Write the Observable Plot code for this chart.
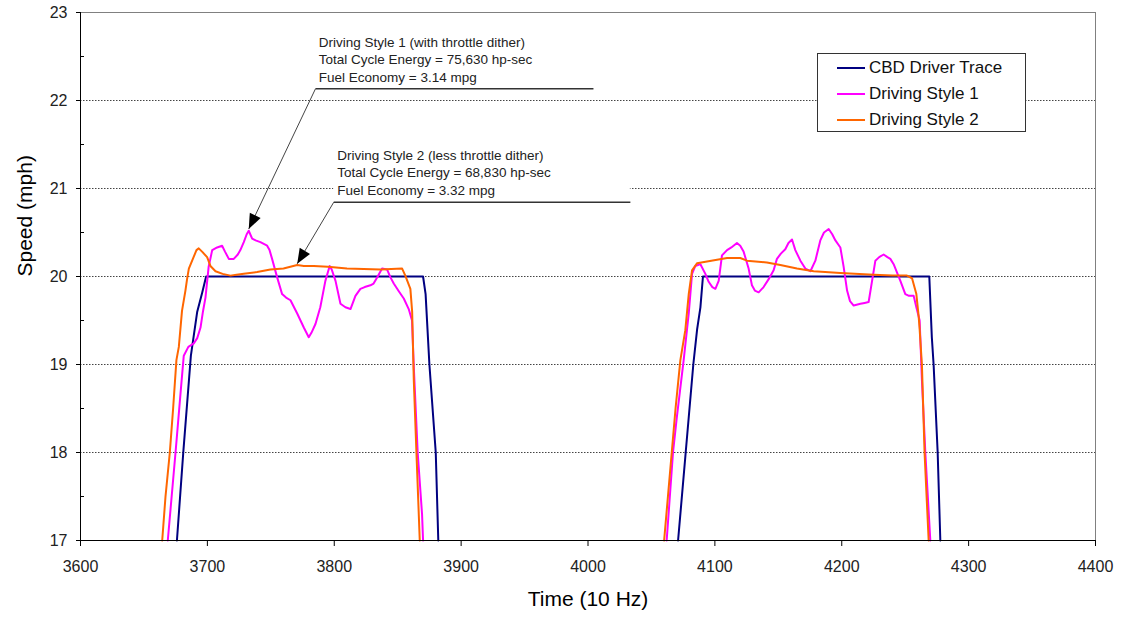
<!DOCTYPE html>
<html>
<head>
<meta charset="utf-8">
<script src="https://cdn.jsdelivr.net/npm/d3@7"></script>
<script src="https://cdn.jsdelivr.net/npm/@observablehq/plot@0.6"></script>
<style>
  body { margin: 0; background: #fff; font-family: "Liberation Sans", Arial, sans-serif; }
  #wrap { position: relative; width: 1123px; height: 624px; }
  #legend { position: absolute; left: 817px; top: 53px; width: 209px; height: 79px;
            border: 1px solid #333; box-sizing: border-box; background: #fff; }
  .row { position: absolute; left: 0; height: 20px; width: 100%; }
  .sw { position: absolute; left: 19px; top: 9px; width: 28px; height: 2px; }
  .lab { position: absolute; left: 51px; top: 0; font-size: 17px; line-height: 20px; color: #111; white-space: nowrap; }
</style>
</head>
<body>
<div id="wrap"></div>
<script>
// ---- data (time in 10 Hz samples, speed in mph) ----
const xTicks = [3600, 3700, 3800, 3900, 4000, 4100, 4200, 4300, 4400];
const yTicks = [17, 18, 19, 20, 21, 22, 23];
const yMinorTicks = [17.5, 18.5, 19.5, 20.5, 21.5, 22.5];
const gridValues = [18, 19, 20, 21, 22];

const seriesNames = ["CBD Driver Trace", "Driving Style 1", "Driving Style 2"];
const seriesColors = ["#000080", "#FF00FF", "#FF6600"];

const cbdHump1 = [[3676,17],[3681,18],[3687,19.1],[3692,19.6],[3696,19.82],[3699,20],[3870,20],[3872,19.8],[3875,19],[3880,18],[3882,17]];
const cbdHump2 = [[4071,17],[4077,18],[4083,19],[4086,19.4],[4088.6,19.65],[4090.6,20],[4269,20],[4271,19.31],[4272.4,19],[4275.6,18],[4277.7,17]];

const style1Hump1 = [[3668.8,17],[3674.9,18],[3679,18.7],[3681.4,19.1],[3685,19.2],[3689.3,19.24],[3692,19.3],[3694.6,19.42],[3696.5,19.6],[3698.5,19.76],[3701,20.11],[3703.8,20.3],[3707.7,20.33],[3711.6,20.35],[3714,20.28],[3716.9,20.2],[3720.8,20.2],[3724,20.25],[3726,20.3],[3728.7,20.39],[3731,20.48],[3732.6,20.52],[3735.3,20.43],[3738,20.41],[3741.8,20.39],[3747.1,20.35],[3749,20.3],[3751,20.2],[3755,19.99],[3758.9,19.8],[3762,19.76],[3765.5,19.73],[3770.8,19.58],[3776,19.42],[3779.9,19.31],[3782,19.36],[3785.2,19.46],[3789,19.65],[3793,19.95],[3796.4,20.12],[3798,20.08],[3801,19.95],[3804.9,19.69],[3808.8,19.65],[3812.8,19.63],[3816.7,19.78],[3820.6,19.86],[3824,19.88],[3828.5,19.9],[3831,19.92],[3833.8,19.99],[3837.7,20.09],[3841.6,20.08],[3844.3,19.99],[3846.9,19.92],[3851,19.83],[3854.8,19.75],[3858.7,19.63],[3861.3,19.5],[3862.7,18.97],[3865.8,17.99],[3869.2,17.3],[3870,17]];
const style1Hump2 = [[4062,17],[4064.5,17.5],[4067,18],[4070,18.4],[4072.5,18.7],[4075.4,19.05],[4079.4,19.58],[4082,20.03],[4084.6,20.12],[4088.6,20.14],[4092.5,20.03],[4095.1,19.94],[4098,19.88],[4100.4,19.86],[4103,19.95],[4105.6,20.24],[4109.6,20.3],[4113,20.33],[4117.4,20.38],[4120,20.35],[4122.7,20.28],[4126.6,20.09],[4129.2,19.9],[4131.5,19.84],[4134.5,19.82],[4138.4,19.88],[4142.4,19.97],[4146.3,20.07],[4148.9,20.2],[4152,20.26],[4155.5,20.31],[4158,20.38],[4160.8,20.42],[4163.4,20.3],[4167.4,20.18],[4171.3,20.09],[4175.3,20.06],[4179.2,20.18],[4183.1,20.41],[4186,20.5],[4189.7,20.54],[4192.5,20.48],[4195,20.41],[4198.9,20.33],[4201.5,20.11],[4204.2,19.84],[4206.5,19.72],[4209.4,19.67],[4214.7,19.69],[4218,19.7],[4221.2,19.71],[4223.9,19.95],[4226.5,20.18],[4229.5,20.22],[4233,20.25],[4236,20.22],[4238.3,20.2],[4240.9,20.14],[4246.2,19.95],[4250.1,19.8],[4253,19.78],[4256.7,19.78],[4258.8,19.65],[4261.4,19.5],[4263.2,18.82],[4265.9,17.99],[4269.8,17]];

const style2Hump1 = [[3664.4,17],[3667,17.5],[3670.4,18],[3673,18.5],[3675.6,19.05],[3677.5,19.2],[3680,19.61],[3682.7,19.84],[3684,19.97],[3685.4,20.09],[3688,20.18],[3691.4,20.3],[3693.2,20.32],[3696,20.28],[3699.8,20.22],[3702.4,20.12],[3706.4,20.06],[3712,20.03],[3718.2,20.01],[3723,20.02],[3728.7,20.03],[3739.2,20.05],[3749.7,20.08],[3760,20.09],[3770.8,20.13],[3776,20.12],[3783.9,20.12],[3795,20.11],[3810,20.09],[3836.4,20.08],[3853.5,20.09],[3856,20.01],[3860,19.86],[3861.4,19.6],[3862.7,18.82],[3864.8,17.99],[3867.4,17]];
const style2Hump2 = [[4060,17],[4063,17.5],[4066,18],[4069,18.5],[4072.8,19.05],[4076.7,19.39],[4079.4,19.8],[4082,20.07],[4085.9,20.15],[4093.8,20.17],[4101.7,20.19],[4109.6,20.21],[4120,20.21],[4125.3,20.18],[4141,20.16],[4151.6,20.13],[4164.7,20.09],[4177.9,20.06],[4198.9,20.04],[4225.2,20.02],[4240,20.01],[4251.4,20.01],[4255.4,19.98],[4258.8,19.8],[4260.6,19.55],[4261.4,19.4],[4263.2,18.99],[4265.3,17.99],[4268.5,17]];

const annotation1Lines = ["Driving Style 1 (with throttle dither)", "Total Cycle Energy = 75,630 hp-sec", "Fuel Economy = 3.14 mpg"];
const annotation2Lines = ["Driving Style 2 (less throttle dither)", "Total Cycle Energy = 68,830 hp-sec", "Fuel Economy = 3.32 mpg"];

// ---- build tables ----
function toRows(humps) {
  return humps.flatMap((h, i) => h.map(([t, v]) => ({t, v, hump: i})));
}
const cbdRows = toRows([cbdHump1, cbdHump2]);
const s1Rows = toRows([style1Hump1, style1Hump2]);
const s2Rows = toRows([style2Hump1, style2Hump2]);

// annotation anchors (data units); head = arrow tip
const ann = [
  {lines: annotation1Lines, tx: 3787.8, ty: [22.662, 22.46, 22.26], box: [22.8, 22.133], u: [3785.2, 4004.3, 22.133], head: [3732.6, 20.54], rot: 205.6},
  {lines: annotation2Lines, tx: 3802.3, ty: [21.375, 21.176, 20.977], box: [21.52, 20.844], u: [3799.6, 4033.4, 20.844], head: [3770.8, 20.144], rot: 210.7}
];
const annText = ann.flatMap(a => a.lines.map((s, i) => ({x: a.tx, y: a.ty[i], s})));
const annBox = ann.map(a => ({x1: a.u[0], x2: a.u[1], y1: a.box[0], y2: a.box[1]}));
const annUnder = ann.map(a => ({x1: a.u[0], x2: a.u[1], y: a.u[2]}));
const annLeader = ann.map(a => ({x1: a.u[0], y1: a.u[2], x2: a.head[0], y2: a.head[1]}));
const annHead = ann.map(a => ({x: a.head[0], y: a.head[1], r: a.rot}));

// arrowhead symbol: tip at origin, pointing up before rotation
const arrowHead = {
  draw(context) {
    context.moveTo(0, 0);
    context.lineTo(-6, 15);
    context.lineTo(6, 15);
    context.closePath();
  }
};

const font = "Liberation Sans, Arial, sans-serif";
const fmt = d => String(d);

const chart = Plot.plot({
  width: 1123, height: 624,
  marginLeft: 80, marginRight: 28, marginTop: 12, marginBottom: 84,
  style: {fontFamily: font, fontSize: "16px", color: "#222", background: "white"},
  x: {domain: [3600, 4400], label: null},
  y: {domain: [17, 23], label: null},
  marks: [
    Plot.gridY(gridValues, {stroke: "#444", strokeOpacity: 1, strokeDasharray: "1.5,1.5"}),
    Plot.frame({stroke: "#808080"}),
    Plot.rect(annBox, {x1: "x1", x2: "x2", y1: "y1", y2: "y2", fill: "white"}),
    Plot.line(cbdRows, {x: "t", y: "v", z: "hump", stroke: seriesColors[0], strokeWidth: 2}),
    Plot.line(s1Rows, {x: "t", y: "v", z: "hump", stroke: seriesColors[1], strokeWidth: 2}),
    Plot.line(s2Rows, {x: "t", y: "v", z: "hump", stroke: seriesColors[2], strokeWidth: 2}),
    Plot.ruleX([3600], {stroke: "#000"}),
    Plot.ruleY([17], {stroke: "#000"}),
    Plot.axisY(yTicks, {tickSize: 4, tickPadding: 9, tickFormat: fmt, stroke: "#000", fill: "#222", fontSize: 16}),
    Plot.axisY(yMinorTicks, {tickSize: -4, tickFormat: () => "", stroke: "#000"}),
    Plot.axisX(xTicks, {tickSize: 6, tickPadding: 14, tickFormat: fmt, stroke: "#000", fill: "#222", fontSize: 16}),
    Plot.text(["Speed (mph)"], {frameAnchor: "left", dx: -55, rotate: -90, fontSize: 21, fill: "#000"}),
    Plot.text(["Time (10 Hz)"], {frameAnchor: "bottom", dy: 65, fontSize: 21, fill: "#000"}),
    Plot.text(annText, {x: "x", y: "y", text: "s", textAnchor: "start", fontSize: 13.5, fill: "#222"}),
    Plot.link(annUnder, {x1: "x1", x2: "x2", y1: "y", y2: "y", stroke: "#333", strokeWidth: 1.5}),
    Plot.link(annLeader, {x1: "x1", y1: "y1", x2: "x2", y2: "y2", stroke: "#444", strokeWidth: 1}),
    Plot.dot(annHead, {x: "x", y: "y", rotate: "r", symbol: arrowHead, r: 5, fill: "#000", stroke: "none"})
  ]
});
document.getElementById("wrap").appendChild(chart);

// legend
const legend = document.createElement("div");
legend.id = "legend";
seriesNames.forEach((name, i) => {
  const row = document.createElement("div");
  row.className = "row";
  row.style.top = (4 + i * 26) + "px";
  const sw = document.createElement("span");
  sw.className = "sw";
  sw.style.background = seriesColors[i];
  const lab = document.createElement("span");
  lab.className = "lab";
  lab.textContent = name;
  row.appendChild(sw); row.appendChild(lab);
  legend.appendChild(row);
});
document.getElementById("wrap").appendChild(legend);
</script>
</body>
</html>
